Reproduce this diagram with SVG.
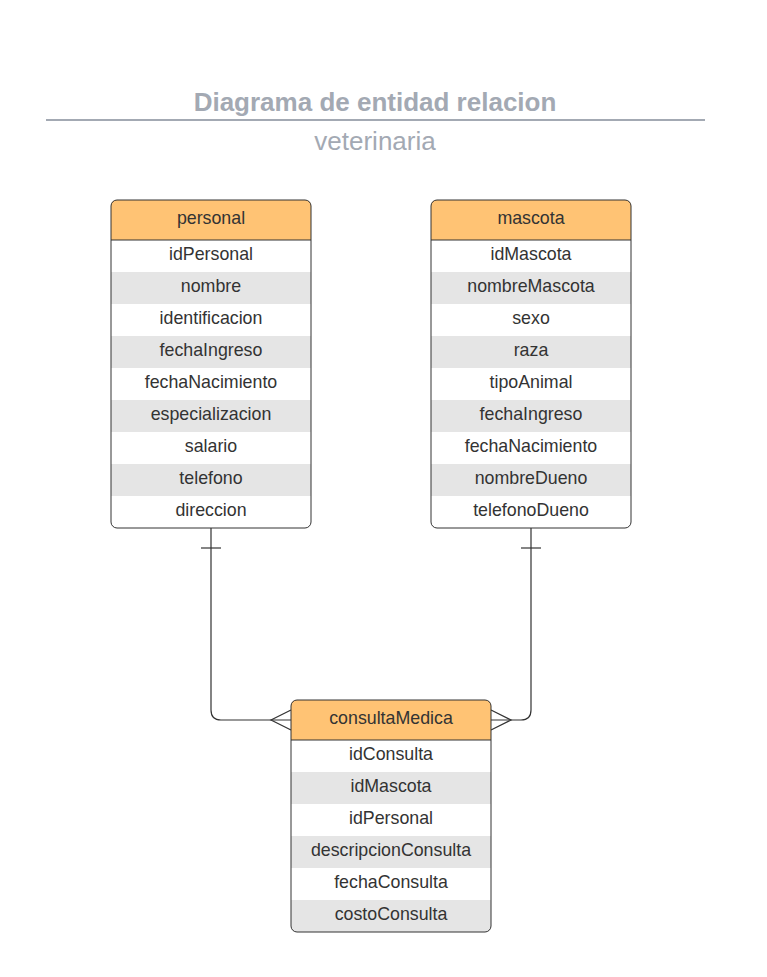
<svg xmlns="http://www.w3.org/2000/svg" width="767" height="977" viewBox="0 0 767 977">
<style>
.t{font-family:"Liberation Sans",Arial,sans-serif;font-size:17.8px;fill:#333;text-anchor:middle}
.h{fill:#ffc374}
.w{fill:#fff}
.g{fill:#e5e5e5}
.b{fill:none;stroke:#333;stroke-width:1}
.c{fill:none;stroke:#333;stroke-width:1.2}
.title{font-family:"Liberation Sans",Arial,sans-serif;fill:#a3a9b3;text-anchor:middle}
</style>
<rect width="767" height="977" fill="#fff"/>
<g id="title">
<text class="title" x="375" y="110.5" font-size="26" font-weight="bold">Diagrama de entidad relacion</text>
<line x1="46" y1="120" x2="705" y2="120" stroke="#a3a9b3" stroke-width="2"/>
<text class="title" x="375" y="149.5" font-size="26">veterinaria</text>
</g>
<g id="connectors">
<path class="c" d="M211 528 V710 Q211 720 221 720 H291"/>
<line class="c" x1="201" y1="548" x2="221" y2="548"/>
<path class="c" d="M291 710 L271 720 L291 730"/>
<path class="c" d="M531 528 V710 Q531 720 521 720 H491"/>
<line class="c" x1="521" y1="548" x2="541" y2="548"/>
<path class="c" d="M491 710 L511 720 L491 730"/>
</g>
<g id="personal">
<path class="h" d="M111 240 V206 Q111 200 117 200 H305 Q311 200 311 206 V240 Z"/>
<rect class="w" x="111" y="240" width="200" height="32"/>
<rect class="g" x="111" y="272" width="200" height="32"/>
<rect class="w" x="111" y="304" width="200" height="32"/>
<rect class="g" x="111" y="336" width="200" height="32"/>
<rect class="w" x="111" y="368" width="200" height="32"/>
<rect class="g" x="111" y="400" width="200" height="32"/>
<rect class="w" x="111" y="432" width="200" height="32"/>
<rect class="g" x="111" y="464" width="200" height="32"/>
<path class="w" d="M111 496 H311 V522 Q311 528 305 528 H117 Q111 528 111 522 Z"/>
<rect class="b" x="111" y="200" width="200" height="328" rx="6"/>
<line class="b" x1="111" y1="240" x2="311" y2="240"/>
<text class="t" x="211" y="224">personal</text>
<text class="t" x="211" y="260">idPersonal</text>
<text class="t" x="211" y="292">nombre</text>
<text class="t" x="211" y="324">identificacion</text>
<text class="t" x="211" y="356">fechaIngreso</text>
<text class="t" x="211" y="388">fechaNacimiento</text>
<text class="t" x="211" y="420">especializacion</text>
<text class="t" x="211" y="452">salario</text>
<text class="t" x="211" y="484">telefono</text>
<text class="t" x="211" y="516">direccion</text>
</g>
<g id="mascota">
<path class="h" d="M431 240 V206 Q431 200 437 200 H625 Q631 200 631 206 V240 Z"/>
<rect class="w" x="431" y="240" width="200" height="32"/>
<rect class="g" x="431" y="272" width="200" height="32"/>
<rect class="w" x="431" y="304" width="200" height="32"/>
<rect class="g" x="431" y="336" width="200" height="32"/>
<rect class="w" x="431" y="368" width="200" height="32"/>
<rect class="g" x="431" y="400" width="200" height="32"/>
<rect class="w" x="431" y="432" width="200" height="32"/>
<rect class="g" x="431" y="464" width="200" height="32"/>
<path class="w" d="M431 496 H631 V522 Q631 528 625 528 H437 Q431 528 431 522 Z"/>
<rect class="b" x="431" y="200" width="200" height="328" rx="6"/>
<line class="b" x1="431" y1="240" x2="631" y2="240"/>
<text class="t" x="531" y="224">mascota</text>
<text class="t" x="531" y="260">idMascota</text>
<text class="t" x="531" y="292">nombreMascota</text>
<text class="t" x="531" y="324">sexo</text>
<text class="t" x="531" y="356">raza</text>
<text class="t" x="531" y="388">tipoAnimal</text>
<text class="t" x="531" y="420">fechaIngreso</text>
<text class="t" x="531" y="452">fechaNacimiento</text>
<text class="t" x="531" y="484">nombreDueno</text>
<text class="t" x="531" y="516">telefonoDueno</text>
</g>
<g id="consultaMedica">
<path class="h" d="M291 740 V706 Q291 700 297 700 H485 Q491 700 491 706 V740 Z"/>
<rect class="w" x="291" y="740" width="200" height="32"/>
<rect class="g" x="291" y="772" width="200" height="32"/>
<rect class="w" x="291" y="804" width="200" height="32"/>
<rect class="g" x="291" y="836" width="200" height="32"/>
<rect class="w" x="291" y="868" width="200" height="32"/>
<path class="g" d="M291 900 H491 V926 Q491 932 485 932 H297 Q291 932 291 926 Z"/>
<rect class="b" x="291" y="700" width="200" height="232" rx="6"/>
<line class="b" x1="291" y1="740" x2="491" y2="740"/>
<text class="t" x="391" y="724">consultaMedica</text>
<text class="t" x="391" y="760">idConsulta</text>
<text class="t" x="391" y="792">idMascota</text>
<text class="t" x="391" y="824">idPersonal</text>
<text class="t" x="391" y="856">descripcionConsulta</text>
<text class="t" x="391" y="888">fechaConsulta</text>
<text class="t" x="391" y="920">costoConsulta</text>
</g>
</svg>
